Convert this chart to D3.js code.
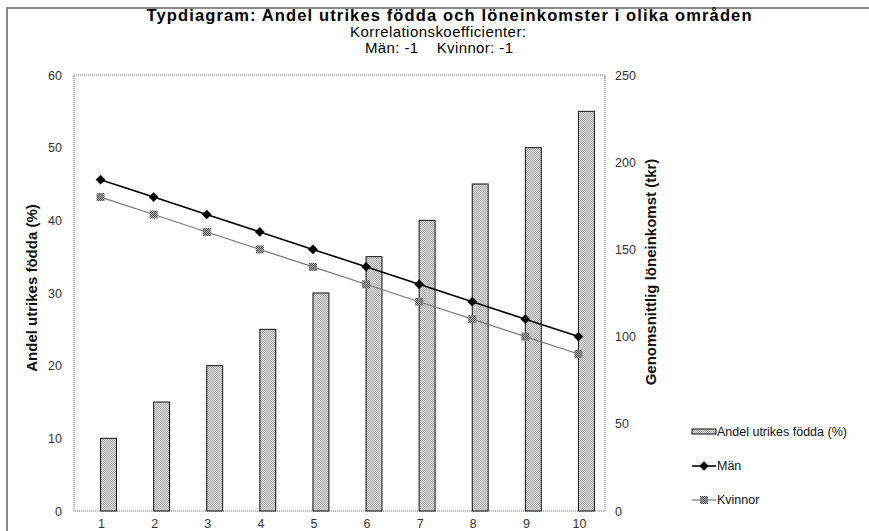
<!DOCTYPE html>
<html><head><meta charset="utf-8">
<script src="https://cdn.jsdelivr.net/npm/d3@7"></script>
<style>
body{margin:0;background:#fff;}
text{font-family:"Liberation Sans",Arial,sans-serif;}
</style></head>
<body>
<svg id="c" width="869" height="531"></svg>
<script>
const categories = ["1","2","3","4","5","6","7","8","9","10"];
const andelUtrikes = [10,15,20,25,30,35,40,45,50,55];
const man = [190,180,170,160,150,140,130,120,110,100];
const kvinnor = [180,170,160,150,140,130,120,110,100,90];
const leftTicks = [0,10,20,30,40,50,60];
const rightTicks = [0,50,100,150,200,250];
const titleLines = ["Typdiagram: Andel utrikes födda och löneinkomster i olika områden","Korrelationskoefficienter:","Män: -1    Kvinnor: -1"];

const svg = d3.select("#c");
const m = {l:74, r:605, t:75, b:511};

const defs = svg.append("defs");
const pat = defs.append("pattern").attr("id","stip").attr("width",2).attr("height",2).attr("patternUnits","userSpaceOnUse");
pat.append("rect").attr("width",2).attr("height",2).attr("fill","#dedede");
pat.append("rect").attr("width",1).attr("height",1).attr("fill","#ababab");
pat.append("rect").attr("x",1).attr("y",1).attr("width",1).attr("height",1).attr("fill","#ababab");
const pat2 = defs.append("pattern").attr("id","stip2").attr("width",2).attr("height",2).attr("patternUnits","userSpaceOnUse");
pat2.append("rect").attr("width",2).attr("height",2).attr("fill","#aaaaaa");
pat2.append("rect").attr("width",1).attr("height",1).attr("fill","#555");
pat2.append("rect").attr("x",1).attr("y",1).attr("width",1).attr("height",1).attr("fill","#555");

// outer frame
svg.append("path").attr("d",`M7,531 V8 H869`).attr("fill","none").attr("stroke","#8a8a8a").attr("stroke-width",2);

const x = d3.scaleBand().domain(categories).range([m.l,m.r]);
const yL = d3.scaleLinear().domain([0,60]).range([m.b,m.t]);
const yR = d3.scaleLinear().domain([0,250]).range([m.b,m.t]);
const cx = d => x(d)+x.bandwidth()/2;

// plot border
svg.append("rect").attr("x",m.l).attr("y",m.t).attr("width",m.r-m.l).attr("height",m.b-m.t)
  .attr("fill","none").attr("stroke","#666").attr("stroke-width",1).attr("stroke-dasharray","1,1");

// bars
const bw = x.bandwidth()*0.3;
svg.append("g").selectAll("rect").data(andelUtrikes).join("rect")
  .attr("x",(d,i)=>cx(categories[i])).attr("y",d=>yL(d)).attr("width",bw).attr("height",d=>m.b-yL(d))
  .attr("fill","url(#stip)").attr("stroke","#111").attr("stroke-width",1);

// lines
const lineK = d3.line().x((d,i)=>cx(categories[i])).y(d=>yR(d));
svg.append("path").datum(kvinnor).attr("d",lineK).attr("fill","none").attr("stroke","#777").attr("stroke-width",1.2);
svg.append("path").datum(man).attr("d",lineK).attr("fill","none").attr("stroke","#000").attr("stroke-width",1.6);
svg.append("g").selectAll("rect").data(kvinnor).join("rect")
  .attr("x",(d,i)=>cx(categories[i])-4).attr("y",d=>yR(d)-4).attr("width",8).attr("height",8)
  .attr("fill","url(#stip2)");
const diamond = d3.symbol().type(d3.symbolDiamond2).size(60);
svg.append("g").selectAll("path").data(man).join("path")
  .attr("transform",(d,i)=>`translate(${cx(categories[i])},${yR(d)})`).attr("d",diamond).attr("fill","#000");

// axes
const axL = svg.append("g").attr("transform",`translate(${m.l},0)`)
  .call(d3.axisLeft(yL).tickValues(leftTicks).tickSize(0).tickPadding(12));
const axR = svg.append("g").attr("transform",`translate(${m.r},0)`)
  .call(d3.axisRight(yR).tickValues(rightTicks).tickSize(0).tickPadding(10));
const axB = svg.append("g").attr("transform",`translate(0,${m.b})`)
  .call(d3.axisBottom(x).tickSize(0).tickPadding(8));
[axL,axR,axB].forEach(a=>{a.select(".domain").remove();a.selectAll("text").attr("font-size",12.5).attr("fill","#333").attr("font-family","Liberation Sans, Arial, sans-serif");});
axB.selectAll("text").attr("dx",1);

// axis titles
svg.append("text").attr("transform","translate(37,288) rotate(-90)").attr("text-anchor","middle")
  .attr("font-size",15).attr("font-weight","bold").attr("fill","#111").text("Andel utrikes födda (%)");
svg.append("text").attr("transform","translate(656,272) rotate(-90)").attr("text-anchor","middle")
  .attr("font-size",15).attr("font-weight","bold").attr("fill","#111").text("Genomsnittlig löneinkomst (tkr)");

// titles
svg.append("text").attr("x",449).attr("y",21).attr("text-anchor","middle").attr("font-size",16.5).attr("font-weight","bold").attr("fill","#000")
  .attr("textLength",605).attr("lengthAdjust","spacing").text(titleLines[0]);
svg.append("text").attr("x",438).attr("y",37).attr("text-anchor","middle").attr("font-size",15).attr("fill","#000")
  .attr("textLength",176).attr("lengthAdjust","spacing").text(titleLines[1]);
svg.append("text").attr("x",439).attr("y",53).attr("text-anchor","middle").attr("font-size",15).attr("fill","#000").style("white-space","pre")
  .attr("textLength",148).attr("lengthAdjust","spacing").text(titleLines[2]);

// legend
const lg = svg.append("g").attr("font-size",12.5);
lg.append("rect").attr("x",692).attr("y",429).attr("width",24).attr("height",5).attr("fill","url(#stip)").attr("stroke","#111");
lg.append("text").attr("x",717).attr("y",436).attr("fill","#111").text("Andel utrikes födda (%)");
lg.append("line").attr("x1",692).attr("x2",716).attr("y1",466).attr("y2",466).attr("stroke","#000").attr("stroke-width",1.6);
lg.append("path").attr("transform","translate(704,466)").attr("d",diamond).attr("fill","#000");
lg.append("text").attr("x",717).attr("y",470).attr("fill","#111").text("Män");
lg.append("line").attr("x1",692).attr("x2",716).attr("y1",500).attr("y2",500).attr("stroke","#777").attr("stroke-width",1.2);
lg.append("rect").attr("x",700).attr("y",496).attr("width",8).attr("height",8).attr("fill","url(#stip2)");
lg.append("text").attr("x",717).attr("y",504).attr("fill","#111").text("Kvinnor");
</script>
</body></html>
